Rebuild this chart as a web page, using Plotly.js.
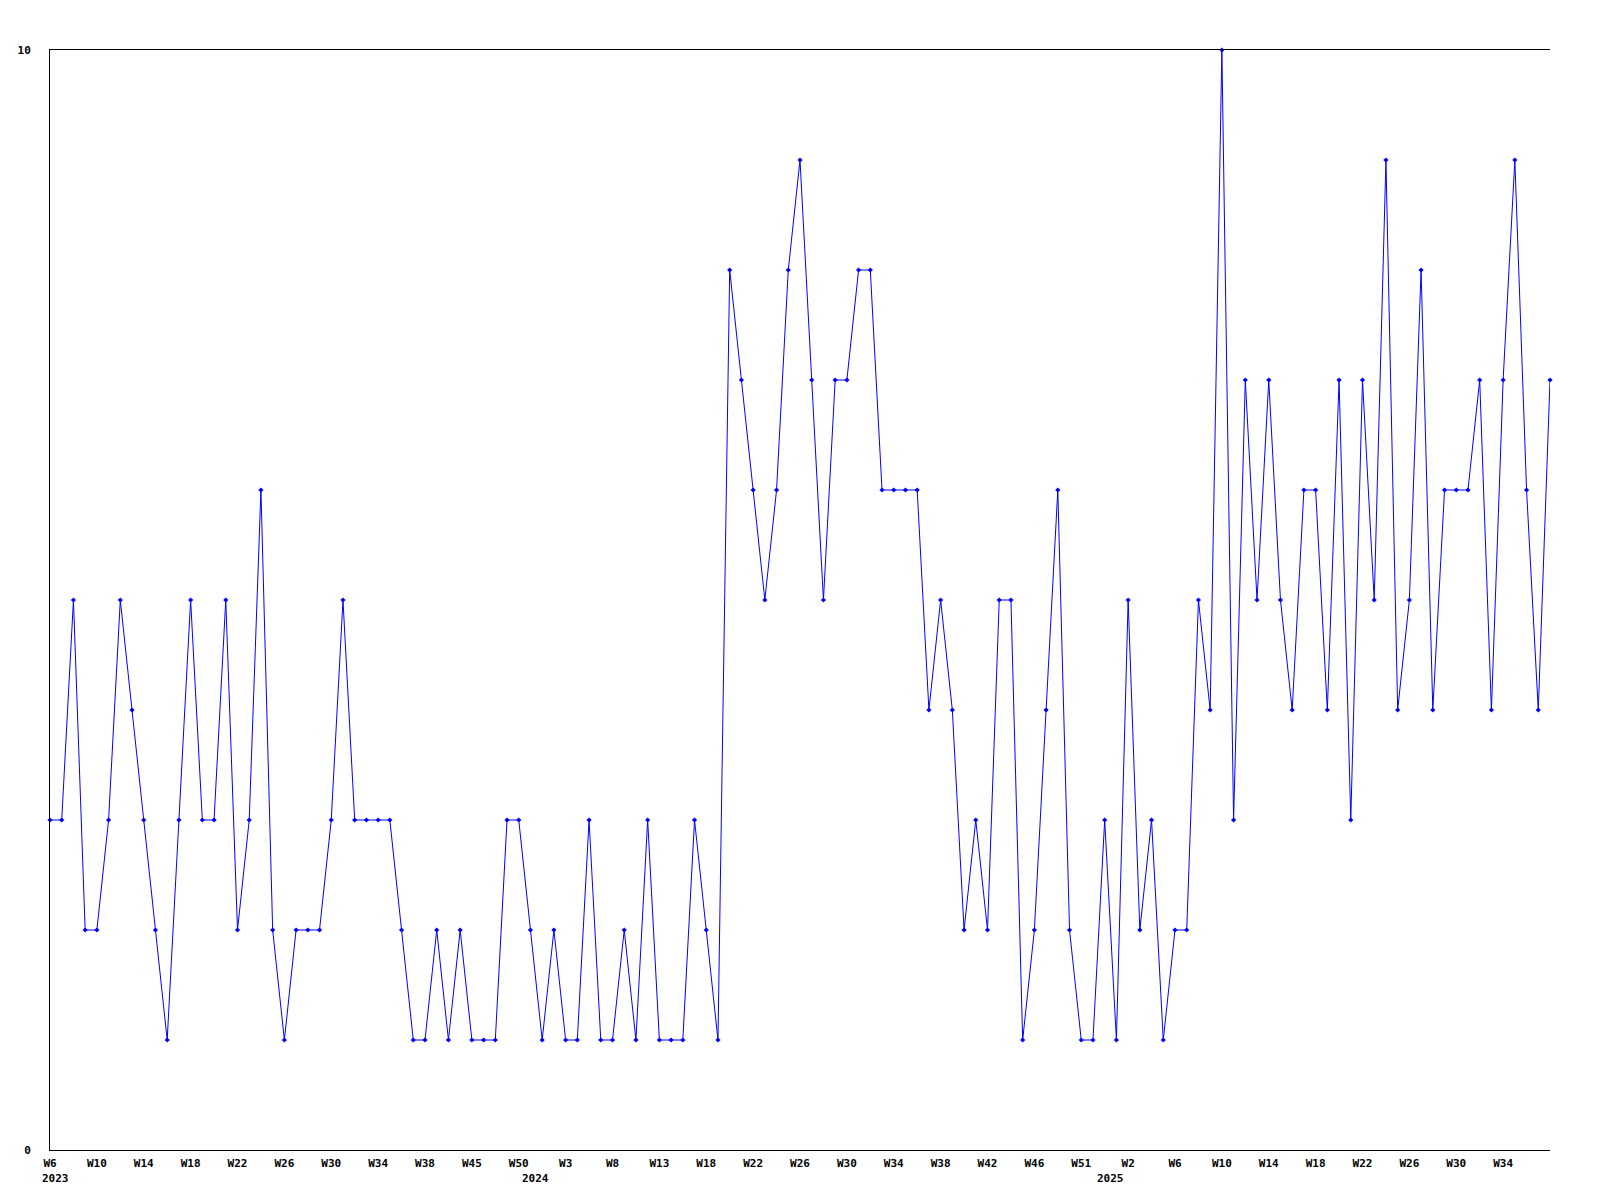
<!DOCTYPE html>
<html>
<head>
<meta charset="utf-8">
<script src="https://cdn.plot.ly/plotly-3.0.1.min.js"></script>
<style>html,body{margin:0;padding:0;background:#fff;}#chart{width:1600px;height:1200px;}</style>
</head>
<body>
<div id="chart"></div>
<script>
// Week categories (one per data point)
const weeks = [
  "2023-W06","2023-W07","2023-W08","2023-W09","2023-W10","2023-W11","2023-W12","2023-W13",
  "2023-W14","2023-W15","2023-W16","2023-W17","2023-W18","2023-W19","2023-W20","2023-W21",
  "2023-W22","2023-W23","2023-W24","2023-W25","2023-W26","2023-W27","2023-W28","2023-W29",
  "2023-W30","2023-W31","2023-W32","2023-W33","2023-W34","2023-W35","2023-W36","2023-W37",
  "2023-W38","2023-W40","2023-W42","2023-W44","2023-W45","2023-W46","2023-W47","2023-W49",
  "2023-W50","2023-W52","2024-W01","2024-W02","2024-W03","2024-W04","2024-W05","2024-W07",
  "2024-W08","2024-W09","2024-W10","2024-W12","2024-W13","2024-W14","2024-W15","2024-W17",
  "2024-W18","2024-W19","2024-W20","2024-W21","2024-W22","2024-W23","2024-W24","2024-W25",
  "2024-W26","2024-W27","2024-W28","2024-W29","2024-W30","2024-W31","2024-W32","2024-W33",
  "2024-W34","2024-W35","2024-W36","2024-W37","2024-W38","2024-W39","2024-W40","2024-W41",
  "2024-W42","2024-W43","2024-W44","2024-W45","2024-W46","2024-W47","2024-W48","2024-W50",
  "2024-W51","2024-W52","2024-W53","2025-W01","2025-W02","2025-W03","2025-W04","2025-W05",
  "2025-W06","2025-W07","2025-W08","2025-W09","2025-W10","2025-W11","2025-W12","2025-W13",
  "2025-W14","2025-W15","2025-W16","2025-W17","2025-W18","2025-W19","2025-W20","2025-W21",
  "2025-W22","2025-W23","2025-W24","2025-W25","2025-W26","2025-W27","2025-W28","2025-W29",
  "2025-W30","2025-W31","2025-W32","2025-W33","2025-W34","2025-W35","2025-W36","2025-W37",
  "2025-W38"
];

// Series values
const counts = [
  3,3,5,2,2,3,5,4, 3,2,1,3,5,3,3,5, 2,3,6,2,1,2,2,2, 3,5,3,3,3,3,2,1,
  1,2,1,2,1,1,1,3, 3,2,1,2,1,1,3,1, 1,2,1,3,1,1,1,3, 2,1,8,7,6,5,6,8,
  9,7,5,7,7,8,8,6, 6,6,6,4,5,4,2,3, 2,5,5,1,2,4,6,2, 1,1,3,1,5,2,3,1,
  2,2,5,4,10,3,7,5, 7,5,4,6,6,4,7,3, 7,5,9,4,5,8,4,6, 6,6,7,4,7,9,6,4,
  7
];

// Tick labels (every 4th point)
const tickIdx = [];
for (let i = 0; i < weeks.length; i += 4) { if (i <= 124) tickIdx.push(i); }
const tickVals = tickIdx.map(i => weeks[i]);
const tickText = tickVals.map(w => "W" + parseInt(w.split("-W")[1], 10));

// Year labels
const yearLabels = ["2023", "2024", "2025"];
const yearAt = [weeks[0], weeks[41], weeks[90]];

const font = {family: "DejaVu Sans Mono, Liberation Mono, monospace", size: 11, color: "#000", weight: "bold"};

const trace = {
  x: weeks,
  y: counts,
  type: "scatter",
  mode: "lines+markers",
  line: {color: "#0000ff", width: 1},
  marker: {color: "#0000ff", symbol: "diamond", size: 4},
  cliponaxis: false,
  hoverinfo: "x+y"
};

const layout = {
  width: 1600,
  height: 1200,
  margin: {l: 50, r: 50, t: 50, b: 50, pad: 0},
  paper_bgcolor: "#fff",
  plot_bgcolor: "#fff",
  showlegend: false,
  font: font,
  xaxis: {
    type: "category",
    range: [0, weeks.length - 1],
    tickmode: "array",
    tickvals: tickVals,
    ticktext: tickText,
    tickangle: 0,
    showgrid: false,
    zeroline: false,
    showline: true,
    linecolor: "#000",
    linewidth: 1,
    mirror: true,
    ticks: "",
    ticklabelstandoff: 3,
    tickfont: font
  },
  yaxis: {
    range: [0, 10],
    tickmode: "array",
    tickvals: [0, 10],
    ticktext: ["0", "10"],
    showgrid: false,
    zeroline: false,
    showline: true,
    linecolor: "#000",
    linewidth: 1,
    ticks: "",
    ticklabelstandoff: 16,
    tickfont: font
  },
  annotations: yearLabels.map((t, k) => ({
    x: yearAt[k],
    xref: "x",
    y: 0,
    yref: "paper",
    text: t,
    showarrow: false,
    xanchor: "left",
    yanchor: "middle",
    xshift: -10,
    yshift: -28,
    font: font
  }))
};

Plotly.newPlot("chart", [trace], layout, {displayModeBar: false, staticPlot: true});
</script>
</body>
</html>
